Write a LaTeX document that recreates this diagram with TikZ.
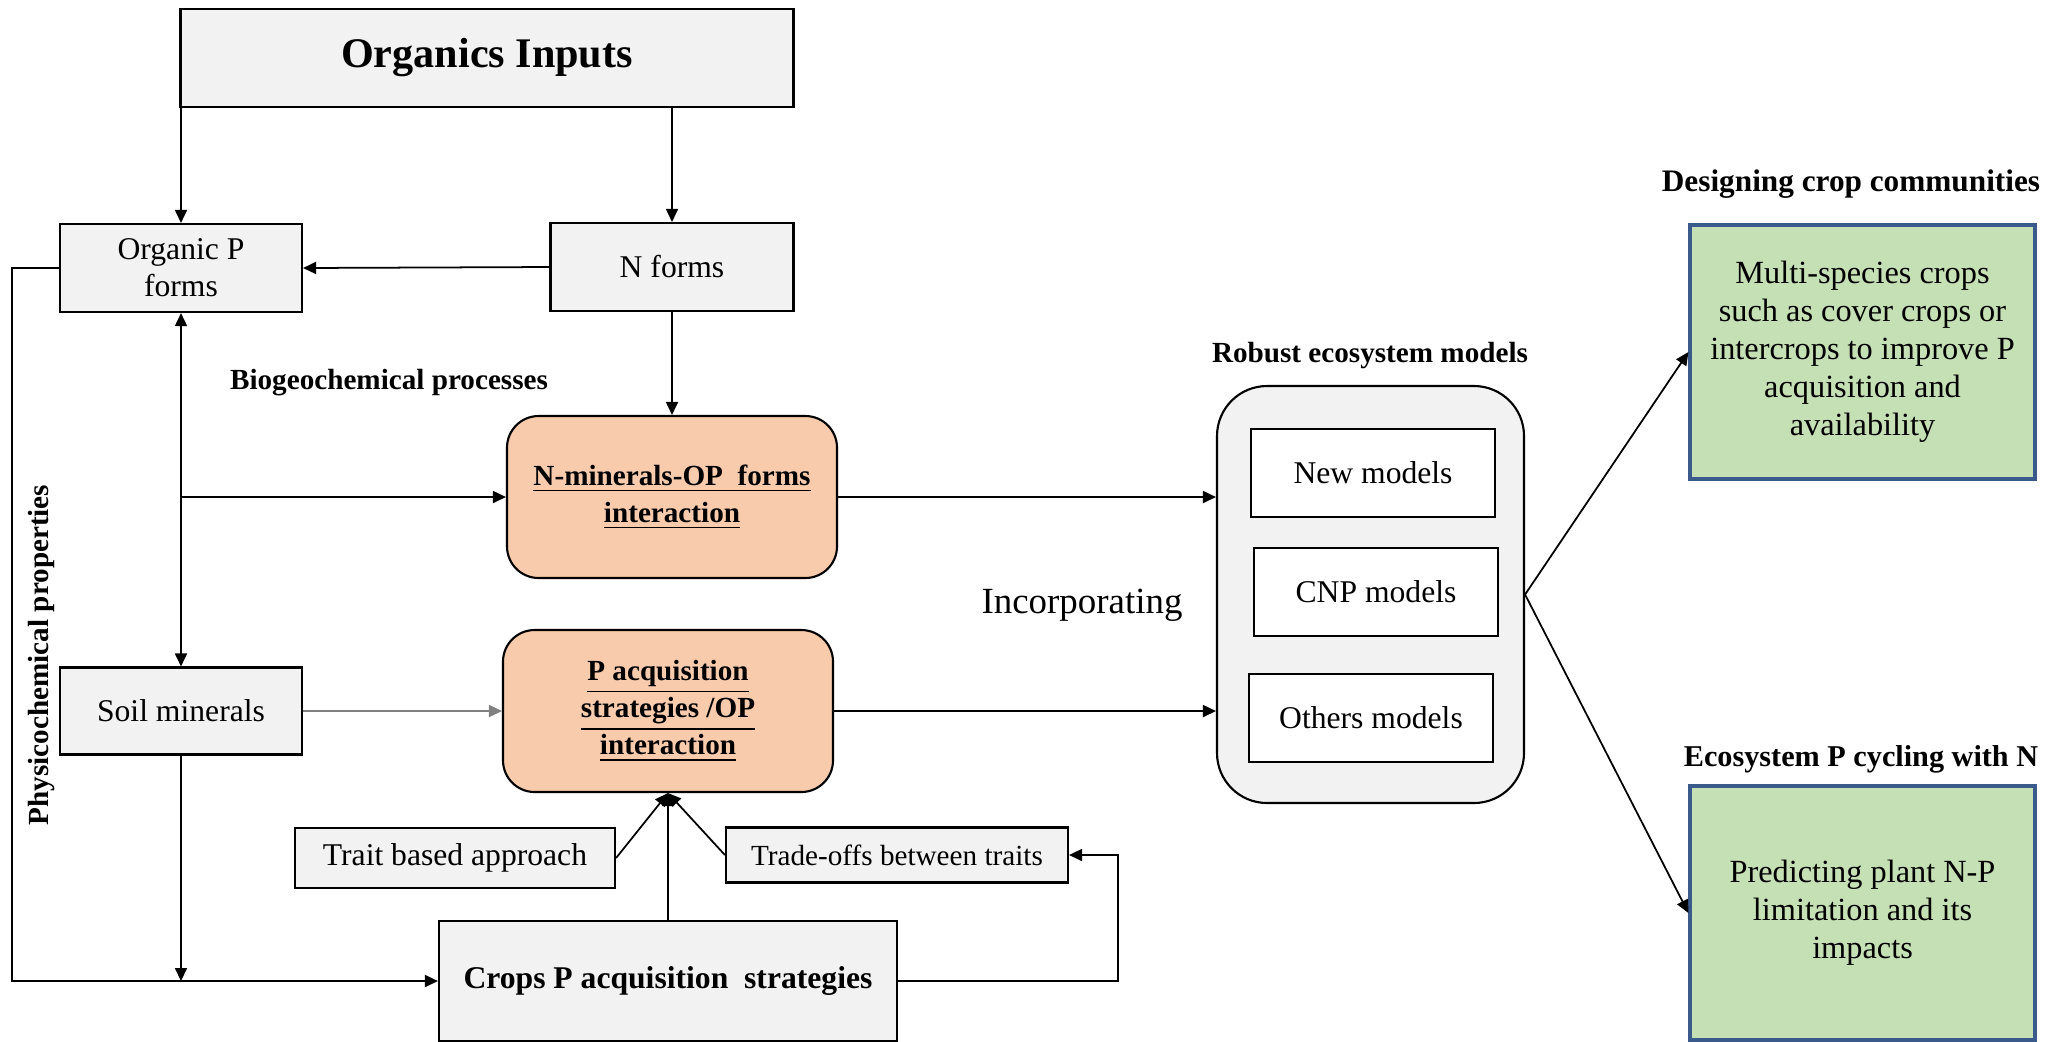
\documentclass[tikz,border=0pt]{standalone}
\usepackage{fontspec}
\setmainfont{Liberation Serif}
\usetikzlibrary{arrows.meta,calc}
\definecolor{boxgray}{HTML}{F2F2F2}
\definecolor{peach}{HTML}{F8CBAD}
\definecolor{leaf}{HTML}{C5E0B4}
\definecolor{leafedge}{HTML}{3A5A8C}
\newcommand{\fsz}[2]{\fontsize{#1}{#2}\selectfont}

\begin{document}
\begin{tikzpicture}[x=1cm,y=-1cm, line width=0.5pt, >={Triangle[length=1.3mm,width=1.2mm]},
      every node/.style={font=\fsz{9}{10.5}},
      box/.style={draw,line width=0.6pt,fill=boxgray,inner sep=1pt,align=center},
      peachbox/.style={draw,line width=0.6pt,fill=peach,rounded corners=9pt,inner sep=1pt,align=center,
        minimum width=3.3cm,minimum height=1.62cm,font=\fsz{8.3}{10.6}\bfseries},
      mbox/.style={draw,line width=0.6pt,fill=white,minimum width=2.44cm,minimum height=0.88cm},
      goal/.style={draw=leafedge,line width=0.9pt,fill=leaf,minimum width=3.45cm,minimum height=2.54cm,
        align=center,font=\fsz{9.2}{10.8}},
      lab/.style={font=\fsz{8.3}{10}\bfseries}]
  \useasboundingbox (0,0) rectangle (20.65,10.41);
  \node[box,minimum width=6.13cm,minimum height=0.98cm,font=\fsz{12}{14}\bfseries] (inputs) at (4.87,0.58) {Organics Inputs};
  \node[box,minimum width=2.42cm,minimum height=0.88cm] (orgp) at (1.81,2.68) {Organic P\\forms};
  \node[box,minimum width=2.43cm,minimum height=0.88cm] (nforms) at (6.72,2.67) {N forms};
  \node[peachbox] (nmin) at (6.72,4.97) {\underline{N-minerals-OP\ \ forms}\\\underline{interaction}};
  \node[peachbox] (pacq) at (6.68,7.11) {\underline{P acquisition}\\\underline{strategies /OP}\\\underline{interaction}};
  \node[box,minimum width=2.42cm,minimum height=0.87cm] (soil) at (1.81,7.11) {Soil minerals};
  \node[box,minimum width=3.2cm,minimum height=0.6cm] (trait) at (4.55,8.58) {Trait based approach};
  \node[box,minimum width=3.42cm,minimum height=0.55cm,font=\fsz{8.3}{10}] (trade) at (8.97,8.55) {Trade-offs between traits};
  \node[box,minimum width=4.58cm,minimum height=1.2cm,font=\fsz{9}{10.5}\bfseries] (crops) at (6.68,9.81) {Crops P acquisition\ \ strategies};
  \node[lab] (biolab) at (3.89,3.83) {Biogeochemical processes};
  \node[lab,rotate=90] (physlab) at (0.42,6.55) {Physicochemical properties};
  \node[font=\fsz{10.5}{12}] (incorp) at (10.82,6.05) {Incorporating};

  \node[draw,line width=0.6pt,fill=boxgray,rounded corners=0.5cm,minimum width=3.07cm,minimum height=4.17cm] (models) at (13.705,5.945) {};
  \node[lab] (modlab) at (13.70,3.56) {Robust ecosystem models};
  \node[mbox] (newm) at (13.73,4.73) {New models};
  \node[mbox] (cnp) at (13.76,5.92) {CNP models};
  \node[mbox] (others) at (13.71,7.18) {Others models};

  \node[goal] (crop) at (18.625,3.52) {Multi-species crops\\such as cover crops or\\intercrops to improve P\\acquisition and\\availability};
  \node[goal] (cycle) at (18.625,9.13) {Predicting plant N-P\\limitation and its\\impacts};
  \node[lab,font=\fsz{8.9}{10}\bfseries] (croplab) at (18.51,1.84) {Designing crop communities};
  \node[lab,font=\fsz{8.6}{10}\bfseries] (cyclab) at (18.61,7.59) {Ecosystem P cycling with N};

  \draw[->] (orgp.north |- inputs.south) -- (orgp.north);
  \draw[->] (nforms.north |- inputs.south) -- (nforms.north);
  \draw[->] (nforms.west) -- (orgp.east);
  \draw[->] (nforms.south) -- (nmin.north);
  \draw[<->] (orgp.south) -- (soil.north);
  \draw[->] (orgp.south |- nmin.west) -- (nmin.west);
  \draw[->,gray] (soil.east) -- (pacq.west);
  \coordinate (join) at (soil.south |- crops.west);
  \draw[->] (soil.south) -- (join);
  \draw[->] (orgp.west) -- ++(-0.47,0) |- (crops.west);
  \draw[->] (crops.north) -- (pacq.south);
  \draw[->] (trait.east) -- (pacq.south);
  \draw[->] (trade.west) -- (pacq.south);
  \draw[->] (crops.east) -- ++(2.2,0) |- (trade.east);
  \draw[->] (nmin.east) -- (nmin.east -| models.west);
  \draw[->] (pacq.east) -- (pacq.east -| models.west);
  \draw[->] (models.east) -- (crop.west);
  \draw[->] (models.east) -- (cycle.west);
\end{tikzpicture}
\end{document}
